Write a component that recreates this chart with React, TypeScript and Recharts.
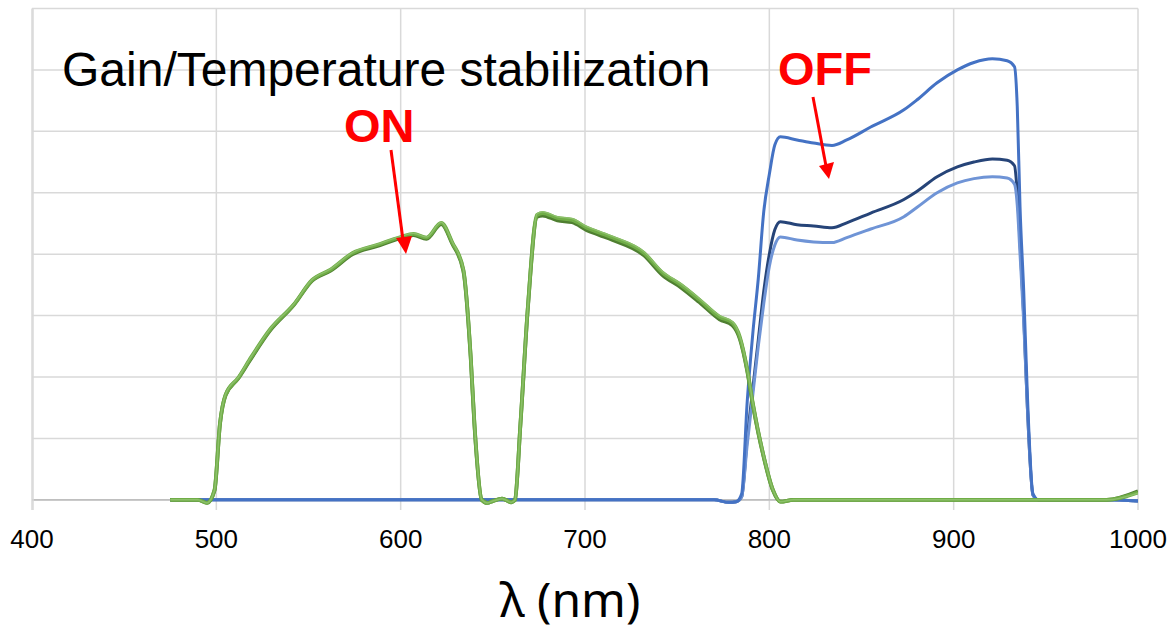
import React from "react";
import { LineChart, Line, XAxis, YAxis, ReferenceLine } from "recharts";

// ---------- data ----------
const xTicks = [400, 500, 600, 700, 800, 900, 1000];
const yTicks = [0, 1, 2, 3, 4, 5, 6, 7, 8];

// ON (gain/temperature stabilization on) — wavelengths (nm)
const onWl = [475, 490, 495, 499, 502, 505, 512, 518, 529, 542, 552, 562, 574, 587, 600, 607, 614, 622, 628, 634, 638, 640, 644, 647, 650, 655, 660, 662, 665, 669, 674, 677, 685, 693, 701, 708, 715, 732, 742, 752, 762, 773, 780, 784, 788, 791, 797, 802, 806, 813, 850, 900, 950, 983, 1000];
const onA = [0, 0, -0.05, 0.16, 1.25, 1.71, 1.99, 2.28, 2.77, 3.18, 3.58, 3.75, 4.02, 4.15, 4.28, 4.33, 4.27, 4.51, 4.19, 3.75, 2.33, 1.25, 0, -0.05, -0.02, 0.02, -0.04, 0, 1.25, 3.14, 4.64, 4.67, 4.59, 4.56, 4.43, 4.35, 4.27, 4.02, 3.70, 3.50, 3.26, 2.98, 2.88, 2.65, 2.12, 1.58, 0.70, 0.16, -0.03, 0, 0, 0, 0, 0, 0.12];
const onB = [0, 0, -0.05, 0.15, 1.24, 1.70, 1.98, 2.26, 2.75, 3.17, 3.57, 3.73, 4.00, 4.13, 4.26, 4.31, 4.25, 4.49, 4.17, 3.73, 2.31, 1.23, 0, -0.05, -0.02, 0.02, -0.04, 0, 1.24, 3.12, 4.61, 4.63, 4.55, 4.52, 4.39, 4.31, 4.23, 3.98, 3.66, 3.46, 3.22, 2.94, 2.84, 2.62, 2.10, 1.56, 0.69, 0.15, -0.03, 0, 0, 0, 0, 0, 0.14];
const onC = [0, 0, -0.05, 0.16, 1.26, 1.72, 2.00, 2.29, 2.78, 3.19, 3.59, 3.76, 4.03, 4.16, 4.29, 4.34, 4.28, 4.52, 4.20, 3.76, 2.34, 1.26, 0, -0.05, -0.02, 0.02, -0.04, 0, 1.26, 3.15, 4.66, 4.69, 4.61, 4.58, 4.45, 4.37, 4.29, 4.04, 3.72, 3.52, 3.28, 3.00, 2.90, 2.67, 2.14, 1.59, 0.71, 0.16, -0.03, 0, 0, 0, 0, 0, 0.11];

// OFF (stabilization off) — wavelengths (nm)
const offWl = [475, 600, 700, 770, 778, 782, 785, 788, 791, 794, 797, 800, 803, 806, 815, 824, 834, 842, 855, 873, 880, 891, 902, 911, 921, 929, 933, 934.5, 936, 938, 940, 943, 946, 960, 983, 1000];
const offA = [0, 0, 0, 0, -0.04, -0.03, 0.1, 1.6, 2.7, 3.6, 4.7, 5.3, 5.78, 5.91, 5.86, 5.81, 5.77, 5.86, 6.07, 6.35, 6.51, 6.79, 7.00, 7.12, 7.18, 7.15, 7.05, 6.4, 4.77, 3.4, 1.7, 0.1, 0, 0, 0, -0.02];
const offB = [0, 0, 0, 0, -0.04, -0.03, 0.05, 1.0, 1.8, 2.6, 3.4, 4.0, 4.4, 4.53, 4.48, 4.46, 4.43, 4.51, 4.67, 4.89, 5.02, 5.26, 5.42, 5.50, 5.55, 5.53, 5.44, 5.0, 4.2, 3.0, 1.5, 0.08, 0, 0, 0, -0.02];
const offC = [0, 0, 0, 0, -0.04, -0.03, 0.05, 0.9, 1.7, 2.5, 3.2, 3.8, 4.15, 4.28, 4.23, 4.20, 4.19, 4.27, 4.41, 4.61, 4.76, 5.00, 5.16, 5.23, 5.26, 5.24, 5.14, 4.8, 4.0, 2.9, 1.5, 0.08, 0, 0, 0, -0.02];

const toRows = (wl: number[], v: number[]) => wl.map((w, i) => ({ wl: w, v: v[i] }));

const series = [
  { key: "offB", data: toRows(offWl, offB), color: "#264478", width: 3 },
  { key: "offC", data: toRows(offWl, offC), color: "#6F94D6", width: 3 },
  { key: "offA", data: toRows(offWl, offA), color: "#4472C4", width: 3 },
  { key: "onB", data: toRows(onWl, onB), color: "#4F7F31", width: 3.8 },
  { key: "onA", data: toRows(onWl, onA), color: "#70AD47", width: 3.8 },
  { key: "onC", data: toRows(onWl, onC), color: "#8CC06A", width: 1.5 },
];

const W = 1172;
const H = 630;
const FONT = "Liberation Sans, Arial, sans-serif";

export default function App() {
  return (
    <div style={{ position: "absolute", left: 0, top: 0, width: W, height: H, background: "#fff" }}>
      <LineChart
        width={W}
        height={H}
        margin={{ top: 8.5, right: 34, left: 32, bottom: 0 }}
        style={{ fontFamily: FONT }}
      >
        <XAxis
          type="number"
          dataKey="wl"
          domain={[400, 1000]}
          ticks={xTicks}
          allowDataOverflow
          height={124}
          axisLine={false}
          tickLine={{ stroke: "#d9d9d9", strokeWidth: 1.5 }}
          tickSize={4}
          tickMargin={20}
          tick={{ fill: "#000", fontSize: 26, fontFamily: FONT }}
        />
        <YAxis
          type="number"
          domain={[-0.1, 8]}
          ticks={yTicks}
          width={0}
          tick={false}
          axisLine={{ stroke: "#d9d9d9", strokeWidth: 1.5 }}
          tickLine={false}
        />
        {yTicks.map((t) => (
          <ReferenceLine key={"h" + t} y={t} stroke="#d9d9d9" strokeWidth={1.5} ifOverflow="visible" />
        ))}
        {xTicks.map((t) => (
          <ReferenceLine key={"v" + t} x={t} stroke="#d9d9d9" strokeWidth={1.5} ifOverflow="visible" />
        ))}
        <ReferenceLine y={0} stroke="#bfbfbf" strokeWidth={1.8} ifOverflow="visible" />
        {series.map((s) => (
          <Line
            key={s.key}
            data={s.data}
            dataKey="v"
            type="monotone"
            stroke={s.color}
            strokeWidth={s.width}
            dot={false}
            activeDot={false}
            isAnimationActive={false}
          />
        ))}
      </LineChart>
      <svg
        width={W}
        height={H}
        style={{ position: "absolute", left: 0, top: 0, pointerEvents: "none" }}
      >
        <line x1={33} y1={8} x2={33} y2={510} stroke="#d9d9d9" strokeWidth={1.5} />
        <text x={62} y={86} fontSize={48} fill="#000" fontFamily={FONT}>
          Gain/Temperature stabilization
        </text>
        <text x={344} y={142} fontSize={47} fontWeight="bold" fill="#ff0000" fontFamily={FONT}>
          ON
        </text>
        <text x={778} y={85} fontSize={47} fontWeight="bold" fill="#ff0000" fontFamily={FONT}>
          OFF
        </text>
        <line x1={391} y1={150} x2={403} y2={240} stroke="#ff0000" strokeWidth={3} />
        <polygon points="406,254 396,238 412,236" fill="#ff0000" />
        <line x1={813} y1={97} x2={826} y2={166} stroke="#ff0000" strokeWidth={3} />
        <polygon points="829,179 819,166 834,162" fill="#ff0000" />
        <text x={570} y={617} fontSize={48} textAnchor="middle" fill="#000" fontFamily="Noto Sans, Open Sans, sans-serif">
          λ (nm)
        </text>
      </svg>
    </div>
  );
}
